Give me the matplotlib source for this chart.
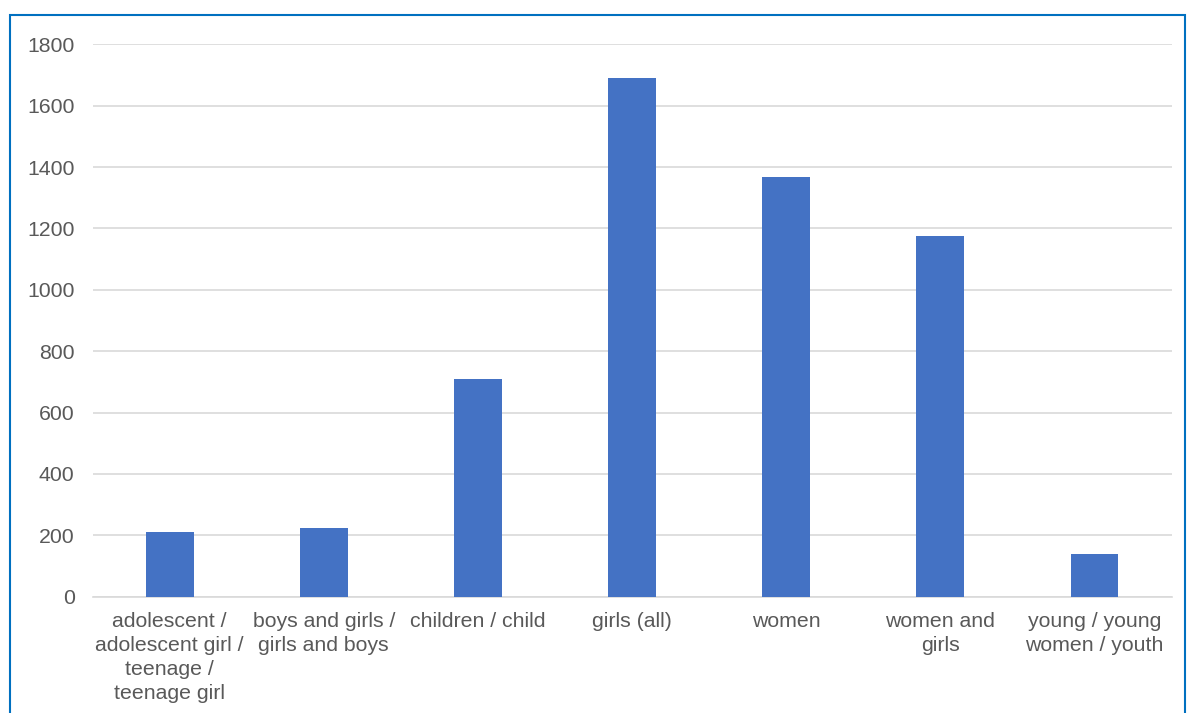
import matplotlib.pyplot as plt
from matplotlib.patches import Rectangle

plt.rcParams['font.family'] = ['Liberation Sans', 'DejaVu Sans']

categories = ['adolescent /\nadolescent girl /\nteenage /\nteenage girl',
              'boys and girls /\ngirls and boys',
              'children / child',
              'girls (all)',
              'women',
              'women and\ngirls',
              'young / young\nwomen / youth']
values = [211, 225, 710, 1690, 1367, 1175, 140]
yticks = [0, 200, 400, 600, 800, 1000, 1200, 1400, 1600, 1800]

fig = plt.figure(figsize=(11.87, 7.13), dpi=100)
ax = fig.add_axes([0.078, 0.163, 0.909, 0.775])

x = range(len(categories))
ax.bar(x, values, width=0.31, color='#4472C4', zorder=3)

ax.set_xlim(-0.5, len(categories) - 0.5)
ax.set_ylim(0, 1800)
ax.set_yticks(yticks)
ax.set_xticks(list(x))
ax.set_xticklabels(categories, linespacing=1.33)
ax.tick_params(axis='both', length=0, labelsize=15.3, colors='#595959')
ax.tick_params(axis='y', pad=13)
ax.tick_params(axis='x', pad=11)
ax.grid(axis='y', color='#D9D9D9', linewidth=1.2, zorder=0)
for s in ['top', 'right', 'left']:
    ax.spines[s].set_visible(False)
ax.spines['bottom'].set_color('#D9D9D9')
ax.spines['bottom'].set_linewidth(1.2)

# chart area border
fig.patches.append(Rectangle((10 / 1187, -0.05), 1175 / 1187, 1.05 - 15 / 713,
                             transform=fig.transFigure, fill=False,
                             edgecolor='#0070C0', linewidth=1.5))

plt.savefig('out.png')
plt.close()
